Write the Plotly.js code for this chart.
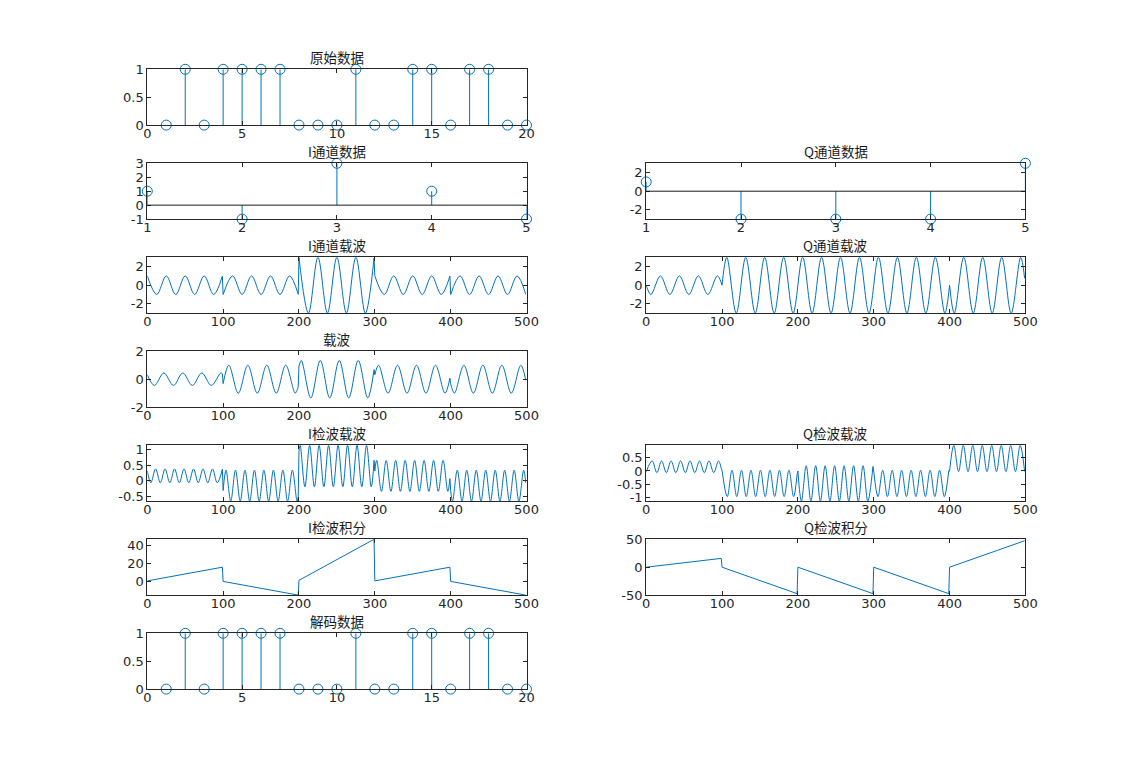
<!DOCTYPE html>
<html><head><meta charset="utf-8">
<script src="https://cdn.plot.ly/plotly-3.0.1.min.js"></script>
<style>html,body{margin:0;padding:0;background:#fff}#chart{width:1133px;height:775px}</style>
</head><body><div id="chart"></div>
<script>
// ---------- data ----------
const bitIndex = [1,2,3,4,5,6,7,8,9,10,11,12,13,14,15,16,17,18,19,20];
const originalBits = [0,1,0,1,1,1,1,0,0,0,1,0,0,1,1,0,1,1,0,0];
const decodedBits  = [0,1,0,1,1,1,1,0,0,0,1,0,0,1,1,0,1,1,0,0];
const symbolIndex = [1,2,3,4,5];
const iSymbols = [1,-1,3,1,-1];
const qSymbols = [1,-3,-3,-3,3];

// I channel carrier: extrema / segment end points (null = symbol break)
const iCarrierX = [0,12.5,25,37.5,50,62.5,75,87.5,99,null,
  100,112.5,125,137.5,150,162.5,175,187.5,199,null,
  200,212.5,225,237.5,250,262.5,275,287.5,299,null,
  300,312.5,325,337.5,350,362.5,375,387.5,399,null,
  400,412.5,425,437.5,450,462.5,475,487.5,499];
const iCarrierY = [1,-1,1,-1,1,-1,1,-1,0.97,null,
  -1,1,-1,1,-1,1,-1,1,-0.97,null,
  3,-3,3,-3,3,-3,3,-3,2.9,null,
  1,-1,1,-1,1,-1,1,-1,0.97,null,
  -1,1,-1,1,-1,1,-1,1,-0.97];
const iCarrierJumpX = [99,100,null,199,200,null,299,300,null,399,400];
const iCarrierJumpY = [0.97,-1,null,-0.97,3,null,2.9,1,null,0.97,-1];

// Q channel carrier
const qCarrierX = [0,6.25,18.75,31.25,43.75,56.25,68.75,81.25,93.75,99,null,
  100,106.25,118.75,131.25,143.75,156.25,168.75,181.25,193.75,206.25,218.75,231.25,243.75,256.25,268.75,281.25,293.75,306.25,318.75,331.25,343.75,356.25,368.75,381.25,393.75,399,null,
  400,406.25,418.75,431.25,443.75,456.25,468.75,481.25,493.75,499];
const qCarrierY = [0,-1,1,-1,1,-1,1,-1,1,0.25,null,
  0,3,-3,3,-3,3,-3,3,-3,3,-3,3,-3,3,-3,3,-3,3,-3,3,-3,3,-3,3,-3,-0.75,null,
  0,-3,3,-3,3,-3,3,-3,3,0.75];
const qCarrierJumpX = [99,100,null,399,400];
const qCarrierJumpY = [0.25,0,null,-0.75,0];

// summed carrier
const carrierX = [0,9.375,21.875,34.375,46.875,59.375,71.875,84.375,96.875,99,null,
  100,107.53,120.03,132.53,145.03,157.53,170.03,182.53,195.03,199,null,
  200,203.13,215.63,228.13,240.63,253.13,265.63,278.13,290.63,299,null,
  300,304.97,317.47,329.97,342.47,354.97,367.47,379.97,392.47,399,null,
  400,404.97,417.47,429.97,442.47,454.97,467.47,479.97,492.47,499];
const carrierY = [0.316,-0.447,0.447,-0.447,0.447,-0.447,0.447,-0.447,0.447,0.385,null,
  -0.316,1,-1,1,-1,1,-1,1,-1,-0.542,null,
  0.949,1.342,-1.342,1.342,-1.342,1.342,-1.342,1.342,-1.342,0.682,null,
  0.316,1,-1,1,-1,1,-1,1,-1,0.07,null,
  -0.316,-1,1,-1,1,-1,1,-1,1,-0.07];
const carrierJumpX = [99,100,null,199,200,null,299,300,null,399,400];
const carrierJumpY = [0.385,-0.316,null,-0.542,0.949,null,0.682,0.316,null,0.07,-0.316];

// I detected carrier
const iDetectX = [0,4.69,10.94,17.19,23.44,29.69,35.94,42.19,48.44,54.69,60.94,67.19,73.44,79.69,85.94,92.19,99,null,
  100,103.77,110.02,116.27,122.52,128.77,135.02,141.27,147.52,153.77,160.02,166.27,172.52,178.77,185.02,191.27,197.52,199,null,
  200,201.56,207.81,214.06,220.31,226.56,232.81,239.06,245.31,251.56,257.81,264.06,270.31,276.56,282.81,289.06,295.31,299,null,
  300,302.49,308.74,314.99,321.24,327.49,333.74,339.99,346.24,352.49,358.74,364.99,371.24,377.49,383.74,389.99,396.24,399,null,
  400,402.49,408.74,414.99,421.24,427.49,433.74,439.99,446.24,452.49,458.74,464.99,471.24,477.49,483.74,489.99,496.24,499];
const iDetectY = [0.316,-0.066,0.382,-0.066,0.382,-0.066,0.382,-0.066,0.382,-0.066,0.382,-0.066,0.382,-0.066,0.382,-0.066,0.375,null,
  -0.316,0.342,-0.658,0.342,-0.658,0.342,-0.658,0.342,-0.658,0.342,-0.658,0.342,-0.658,0.342,-0.658,0.342,-0.658,-0.525,null,
  0.949,1.145,-0.197,1.145,-0.197,1.145,-0.197,1.145,-0.197,1.145,-0.197,1.145,-0.197,1.145,-0.197,1.145,-0.197,0.662,null,
  0.316,0.658,-0.342,0.658,-0.342,0.658,-0.342,0.658,-0.342,0.658,-0.342,0.658,-0.342,0.658,-0.342,0.658,-0.342,0.068,null,
  -0.316,-0.658,0.342,-0.658,0.342,-0.658,0.342,-0.658,0.342,-0.658,0.342,-0.658,0.342,-0.658,0.342,-0.658,0.342,-0.068];
const iDetectJumpX = [99,100,null,199,200,null,299,300,null,399,400];
const iDetectJumpY = [0.375,-0.316,null,-0.525,0.949,null,0.662,0.316,null,0.068,-0.316];

// Q detected carrier
const qDetectX = [0,7.81,14.06,20.31,26.56,32.81,39.06,45.31,51.56,57.81,64.06,70.31,76.56,82.81,89.06,95.31,99,null,
  100,106.89,113.14,119.39,125.64,131.89,138.14,144.39,150.64,156.89,163.14,169.39,175.64,181.89,188.14,194.39,199,null,
  200,204.69,210.94,217.19,223.44,229.69,235.94,242.19,248.44,254.69,260.94,267.19,273.44,279.69,285.94,292.19,299,null,
  300,305.61,311.86,318.11,324.36,330.61,336.86,343.11,349.36,355.61,361.86,368.11,374.36,380.61,386.86,393.11,399,null,
  400,405.61,411.86,418.11,424.36,430.61,436.86,443.11,449.36,455.61,461.86,468.11,474.36,480.61,486.86,493.11,499];
const qDetectY = [-0.03,0.382,-0.066,0.382,-0.066,0.382,-0.066,0.382,-0.066,0.382,-0.066,0.382,-0.066,0.382,-0.066,0.382,0.096,null,
  0.02,-0.974,0.026,-0.974,0.026,-0.974,0.026,-0.974,0.026,-0.974,0.026,-0.974,0.026,-0.974,0.026,-0.974,-0.135,null,
  0,-1.145,0.197,-1.145,0.197,-1.145,0.197,-1.145,0.197,-1.145,0.197,-1.145,0.197,-1.145,0.197,-1.145,0.17,null,
  0,-0.974,0.026,-0.974,0.026,-0.974,0.026,-0.974,0.026,-0.974,0.026,-0.974,0.026,-0.974,0.026,-0.974,0.018,null,
  0,0.974,-0.026,0.974,-0.026,0.974,-0.026,0.974,-0.026,0.974,-0.026,0.974,-0.026,0.974,-0.026,0.974,-0.018];
const qDetectJumpX = [99,100,null,199,200,null,299,300,null,399,400];
const qDetectJumpY = [0.096,0.02,null,-0.135,0,null,0.17,0,null,0.018,0];

// integrals (running sums with small visible ripple)
const iIntegralX = [0,25,50,75,99,100,125,150,175,199,200,225,250,275,299,300,325,350,375,399,400,425,450,475,499];
const iIntegralY = [0.3,4.3,8.2,12.1,15.8,-0.3,-4.3,-8.2,-12.1,-15.8,0.95,12.6,24.2,35.8,47.4,0.3,4.3,8.2,12.1,15.8,-0.3,-4.3,-8.2,-12.1,-15.8];
const qIntegralX = [0,25,50,75,99,100,125,150,175,199,200,225,250,275,299,300,325,350,375,399,400,425,450,475,499];
const qIntegralY = [0,4.0,7.9,11.9,15.8,0,-11.9,-23.7,-35.6,-47.4,0,-11.9,-23.7,-35.6,-47.4,0,-11.9,-23.7,-35.6,-47.4,0,11.9,23.7,35.6,47.4];

// tick labels
const bitTicks = [0,5,10,15,20];           const bitTickText = ['0','5','10','15','20'];
const unitTicks = [0,0.5,1];               const unitTickText = ['0','0.5','1'];
const symTicks = [1,2,3,4,5];              const symTickText = ['1','2','3','4','5'];
const iSymYTicks = [-1,0,1,2,3];           const iSymYTickText = ['-1','0','1','2','3'];
const qSymYTicks = [-2,0,2];               const qSymYTickText = ['-2','0','2'];
const sampleTicks = [0,100,200,300,400,500]; const sampleTickText = ['0','100','200','300','400','500'];
const carrierYTicks = [-2,0,2];            const carrierYTickText = ['-2','0','2'];
const iDetYTicks = [-0.5,0,0.5,1];         const iDetYTickText = ['-0.5','0','0.5','1'];
const qDetYTicks = [-1,-0.5,0,0.5];        const qDetYTickText = ['-1','-0.5','0','0.5'];
const iIntYTicks = [0,20,40];              const iIntYTickText = ['0','20','40'];
const qIntYTicks = [-50,0,50];             const qIntYTickText = ['-50','0','50'];

const titles = ['原始数据','I通道数据','Q通道数据','I通道载波','Q通道载波','载波','I检波载波','Q检波载波','I检波积分','Q检波积分','解码数据'];

// ---------- layout ----------
const W = 1133, H = 775;
const BLUE = '#0072BD', AXC = '#262626';
const COL_L = [147.3/W, 526.5/W], COL_R = [646.2/W, 1025.4/W];
function rowDomain(r){ const top = 69.3 + 94*(r-1); const bot = top + 55.8; return [1-bot/H, 1-top/H]; }

const panels = [
  {col:COL_L,row:1,xr:[0,20],yr:[0,1],xt:bitTicks,xtt:bitTickText,yt:unitTicks,ytt:unitTickText},
  {col:COL_L,row:2,xr:[1,5],yr:[-1,3],xt:symTicks,xtt:symTickText,yt:iSymYTicks,ytt:iSymYTickText},
  {col:COL_R,row:2,xr:[1,5],yr:[-3,3],xt:symTicks,xtt:symTickText,yt:qSymYTicks,ytt:qSymYTickText},
  {col:COL_L,row:3,xr:[0,500],yr:[-3,3],xt:sampleTicks,xtt:sampleTickText,yt:carrierYTicks,ytt:carrierYTickText},
  {col:COL_R,row:3,xr:[0,500],yr:[-3,3],xt:sampleTicks,xtt:sampleTickText,yt:carrierYTicks,ytt:carrierYTickText},
  {col:COL_L,row:4,xr:[0,500],yr:[-2,2],xt:sampleTicks,xtt:sampleTickText,yt:carrierYTicks,ytt:carrierYTickText},
  {col:COL_L,row:5,xr:[0,500],yr:[-0.658,1.145],xt:sampleTicks,xtt:sampleTickText,yt:iDetYTicks,ytt:iDetYTickText},
  {col:COL_R,row:5,xr:[0,500],yr:[-1.145,0.974],xt:sampleTicks,xtt:sampleTickText,yt:qDetYTicks,ytt:qDetYTickText},
  {col:COL_L,row:6,xr:[0,500],yr:[-15.8,47.4],xt:sampleTicks,xtt:sampleTickText,yt:iIntYTicks,ytt:iIntYTickText},
  {col:COL_R,row:6,xr:[0,500],yr:[-50,50],xt:sampleTicks,xtt:sampleTickText,yt:qIntYTicks,ytt:qIntYTickText},
  {col:COL_L,row:7,xr:[0,20],yr:[0,1],xt:bitTicks,xtt:bitTickText,yt:unitTicks,ytt:unitTickText}
];

const layout = {width:W,height:H,margin:{l:0,r:0,t:0,b:0},paper_bgcolor:'#fff',plot_bgcolor:'#fff',
  showlegend:false,annotations:[],shapes:[],hovermode:false};
const tickFont = {family:'DejaVu Sans, Noto Sans CJK SC, sans-serif',size:13,color:AXC};
function axName(i){ return i===0 ? '' : String(i+1); }
panels.forEach((p,i)=>{
  const n = axName(i);
  const common = {tickmode:'array',ticks:'inside',ticklen:4,tickwidth:1,tickcolor:AXC,
    showline:true,linecolor:AXC,linewidth:1,mirror:'ticks',showgrid:false,zeroline:false,
    tickfont:tickFont,fixedrange:true};
  layout['xaxis'+n] = Object.assign({},common,{domain:p.col,range:p.xr,anchor:'y'+n,tickvals:p.xt,ticktext:p.xtt,ticklabelstandoff:-4});
  const yd = rowDomain(p.row);
  layout['yaxis'+n] = Object.assign({},common,{domain:yd,range:p.yr,anchor:'x'+n,tickvals:p.yt,ticktext:p.ytt});
  layout.annotations.push({text:titles[i],xref:'paper',yref:'paper',x:(p.col[0]+p.col[1])/2,y:yd[1],
    xanchor:'center',yanchor:'middle',yshift:12,showarrow:false,
    font:{family:'Noto Sans CJK SC, DejaVu Sans, sans-serif',size:13.5,color:'#1a1a1a'}});
});
// stem baselines
[1,2].forEach(i=>{
  const n = axName(i);
  layout.shapes.push({type:'line',xref:'x'+n+' domain',yref:'y'+n,x0:0,x1:1,y0:0,y1:0,line:{color:'#1a1a1a',width:1}});
});

const traces = [];
function stem(xs, ys, i){
  const n = axName(i); const lx=[], ly=[];
  xs.forEach((x,k)=>{ lx.push(x,x,null); ly.push(0,ys[k],null); });
  traces.push({x:lx,y:ly,mode:'lines',line:{color:BLUE,width:1},xaxis:'x'+n,yaxis:'y'+n,cliponaxis:false});
  traces.push({x:xs,y:ys,mode:'markers',marker:{symbol:'circle-open',size:10,color:BLUE,line:{width:1,color:BLUE}},
    xaxis:'x'+n,yaxis:'y'+n,cliponaxis:false});
}
function wave(xs, ys, jx, jy, i){
  const n = axName(i);
  traces.push({x:xs,y:ys,mode:'lines',connectgaps:false,line:{color:BLUE,width:1,shape:'spline',smoothing:1},xaxis:'x'+n,yaxis:'y'+n});
  if (jx) traces.push({x:jx,y:jy,mode:'lines',connectgaps:false,line:{color:BLUE,width:1},xaxis:'x'+n,yaxis:'y'+n});
}
function poly(xs, ys, i){
  const n = axName(i);
  traces.push({x:xs,y:ys,mode:'lines',line:{color:BLUE,width:1},xaxis:'x'+n,yaxis:'y'+n});
}
stem(bitIndex, originalBits, 0);
stem(symbolIndex, iSymbols, 1);
stem(symbolIndex, qSymbols, 2);
wave(iCarrierX, iCarrierY, iCarrierJumpX, iCarrierJumpY, 3);
wave(qCarrierX, qCarrierY, qCarrierJumpX, qCarrierJumpY, 4);
wave(carrierX, carrierY, carrierJumpX, carrierJumpY, 5);
wave(iDetectX, iDetectY, iDetectJumpX, iDetectJumpY, 6);
wave(qDetectX, qDetectY, qDetectJumpX, qDetectJumpY, 7);
poly(iIntegralX, iIntegralY, 8);
poly(qIntegralX, qIntegralY, 9);
stem(bitIndex, decodedBits, 10);

Plotly.newPlot('chart', traces, layout, {staticPlot:true});
</script></body></html>
